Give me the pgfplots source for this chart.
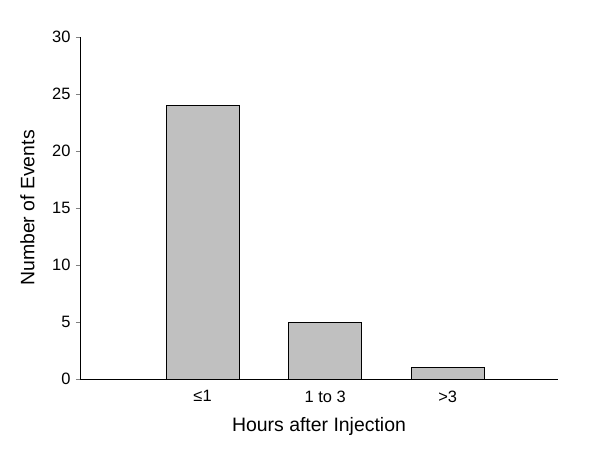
\documentclass[border=0pt]{standalone}
\usepackage{pgfplots}
\pgfplotsset{compat=1.18}
\usepackage{fontspec}
\setmainfont{Liberation Sans}
\definecolor{bargray}{HTML}{C0C0C0}
\begin{document}
\begin{tikzpicture}
\useasboundingbox (-80bp,-74bp) rectangle (520bp,379bp);
\begin{axis}[
  at={(0,0)}, anchor=south west,
  scale only axis, width=478bp, height=342bp,
  xmin=0, xmax=3.9, ymin=0, ymax=30,
  axis lines=left, axis line style={-, line width=0.8pt},
  ytick={0,5,10,15,20,25,30},
  xtick={1,2,3}, xticklabels={≤1,1 to 3,>3},
  x tick style={draw=none},
  y tick style={line width=0.8pt},
  tick align=outside, major tick length=4bp,
  /pgf/number format/assume math mode=true,
  tick label style={font=\fontsize{16.5}{19}\selectfont},
  label style={font=\fontsize{19.5}{22}\selectfont},
  xlabel={Hours after Injection},
  ylabel={Number of Events},
  xlabel style={at={(axis description cs:0.5,-0.138)}, anchor=center},
  ylabel style={at={(axis description cs:-0.11,0.5)}, anchor=center},
  yticklabel style={xshift=-2bp},
  xticklabel style={yshift=-4bp},
  ybar, bar width=73bp,
]
\addplot[draw=black, fill=bargray, line width=0.6pt] coordinates {(1,24) (2,5) (3,1)};
\end{axis}
\end{tikzpicture}
\end{document}
